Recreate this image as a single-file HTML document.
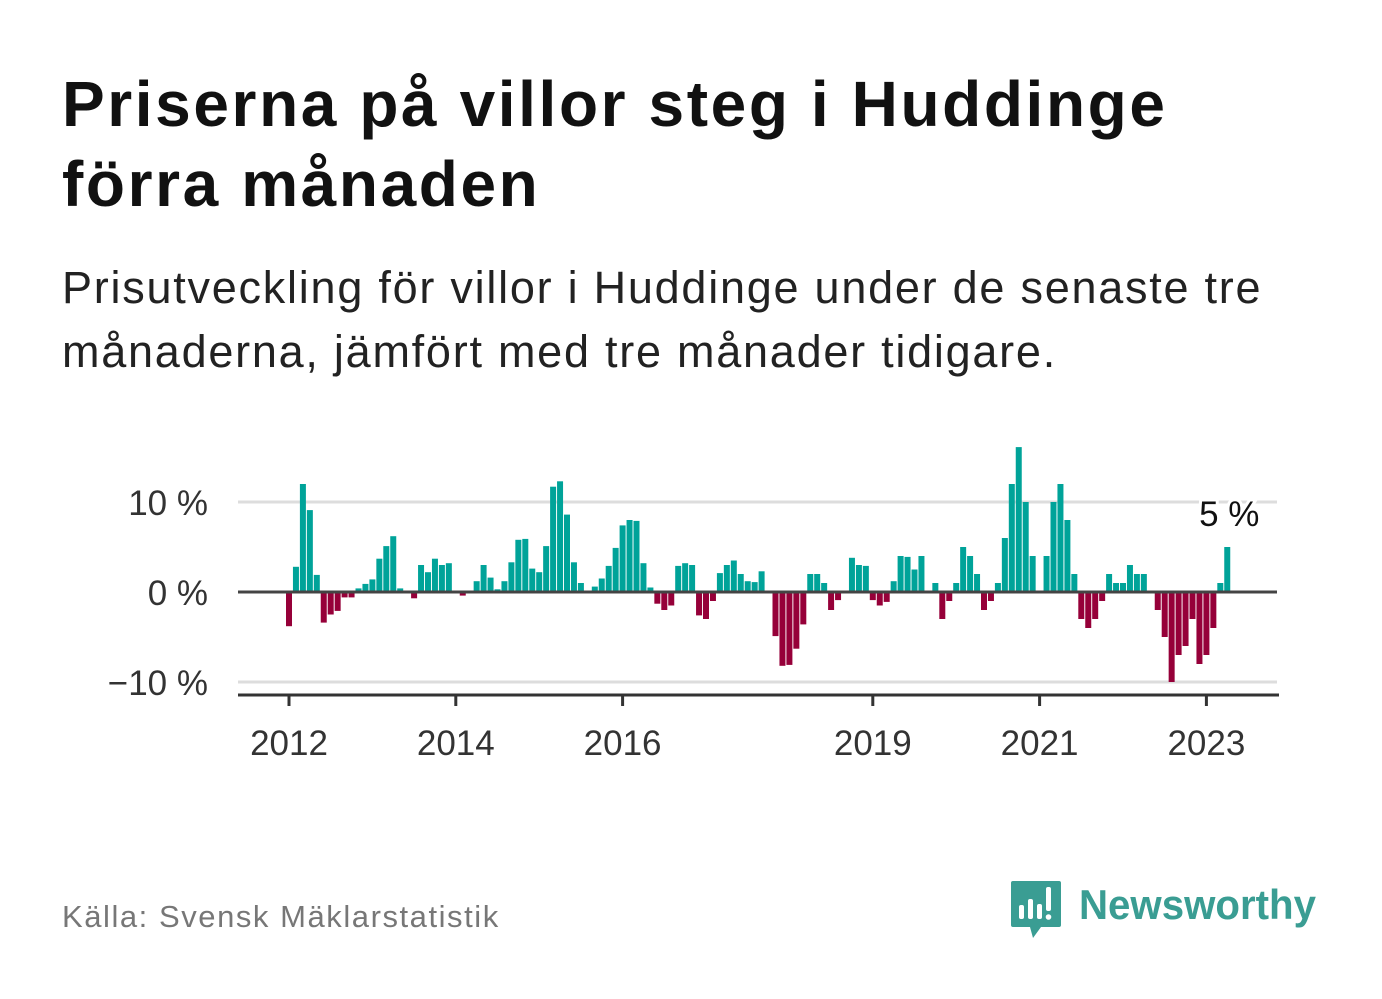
<!DOCTYPE html>
<html><head><meta charset="utf-8">
<style>
body{margin:0;background:#fff;width:1382px;height:999px;overflow:hidden;font-family:"Liberation Sans",sans-serif;}
#title{position:absolute;left:62px;top:64px;font-size:64px;font-weight:bold;line-height:80px;color:#111;letter-spacing:2.6px;}
#sub{position:absolute;left:62px;top:256px;font-size:45px;line-height:64px;color:#222;letter-spacing:1.75px;}
#src{position:absolute;left:62px;top:899px;font-size:31px;color:#777;letter-spacing:1.55px;}
svg{position:absolute;left:0;top:0;}
</style></head><body>
<div id="title">Priserna på villor steg i Huddinge<br>förra månaden</div>
<div id="sub">Prisutveckling för villor i Huddinge under de senaste tre<br>månaderna, jämfört med tre månader tidigare.</div>
<div id="src">Källa: Svensk Mäklarstatistik</div>
<svg width="1382" height="999" id="chart">
<g id="grid"></g><g id="bars"></g><g id="axis"></g>
<g>
<path d="M1013 881 h46 a2 2 0 0 1 2 2 v42 a2 2 0 0 1 -2 2 h-18 l-8 11 l-3 -11 h-17 a2 2 0 0 1 -2 -2 v-42 a2 2 0 0 1 2 -2z" fill="#3a9d93"/>
<rect x="1019" y="905" width="5" height="14" rx="2" fill="#fff"/>
<rect x="1028" y="899" width="5" height="20" rx="2" fill="#fff"/>
<rect x="1037" y="904" width="5" height="15" rx="2" fill="#fff"/>
<rect x="1046" y="887" width="5" height="24" rx="2" fill="#fff"/>
<circle cx="1048.5" cy="917" r="2.8" fill="#fff"/>
<text x="1079" y="919" font-size="42" font-weight="bold" fill="#3a9d93" font-family="Liberation Sans, sans-serif" textLength="237" lengthAdjust="spacingAndGlyphs">Newsworthy</text>
</g>
</svg>
<script>
const values=[-3.8,2.8,12.0,9.1,1.9,-3.4,-2.5,-2.1,-0.6,-0.6,0.4,0.9,
1.4,3.7,5.1,6.2,0.4,null,-0.7,3.0,2.2,3.7,3.0,3.2,
null,-0.4,null,1.2,3.0,1.6,0.3,1.2,3.3,5.8,5.9,2.6,
2.2,5.1,11.7,12.3,8.6,3.3,1.0,null,0.6,1.5,2.9,4.9,
7.4,8.0,7.9,3.2,0.5,-1.3,-2.0,-1.5,2.9,3.2,3.0,-2.6,
-3.0,-1.0,2.1,3.0,3.5,2.0,1.2,1.1,2.3,null,-4.9,-8.2,
-8.1,-6.3,-3.6,2.0,2.0,1.0,-2.0,-0.9,null,3.8,3.0,2.9,
-0.9,-1.5,-1.1,1.2,4.0,3.9,2.5,4.0,null,1.0,-3.0,-1.0,
1.0,5.0,4.0,2.0,-2.0,-1.0,1.0,6.0,12.0,16.1,10.0,4.0,
null,4.0,10.0,12.0,8.0,2.0,-3.0,-4.0,-3.0,-1.0,2.0,1.0,
1.0,3.0,2.0,2.0,null,-2.0,-5.0,-10.0,-7.0,-6.0,-3.0,-8.0,
-7.0,-4.0,1.0,5.0];
const startYear=2012;
const yTicks=[10,0,-10];
const yTickLabels=["10 %","0 %","\u221210 %"];
const xTickYears=[2012,2014,2016,2019,2021,2023];
const NS="http://www.w3.org/2000/svg";
const x=i=>289+i*83.4/12;
const y=v=>592-v*9.0;
const g=document.getElementById('grid'),b=document.getElementById('bars'),a=document.getElementById('axis');
function mk(t,at,p){const e=document.createElementNS(NS,t);for(const k in at)e.setAttribute(k,at[k]);p.appendChild(e);return e;}
yTicks.forEach((v,k)=>{
  const l=mk('line',{x1:238,x2:1277,y1:y(v),y2:y(v),stroke:'#ddd','stroke-width':3},g);
  
  
  const t=mk('text',{x:208,y:y(v)+13,'text-anchor':'end','font-size':35,fill:'#333'},g);
  t.textContent=yTickLabels[k];
  
  
});
values.forEach((v,i)=>{
  if(v===null)return;
  const r=mk('rect',{x:x(i)-3,width:6,y:v>=0?y(v):y(0),height:Math.abs(y(v)-y(0)),fill:v>=0?'#00a399':'#960039'},b);
  
  
});
const z=mk('line',{x1:238,x2:1277,y1:y(0),y2:y(0),stroke:'#444','stroke-width':3},a);


const ax=mk('line',{x1:238,x2:1279,y1:695,y2:695,stroke:'#333','stroke-width':3},a);


xTickYears.forEach(yr=>{
  const xi=x((yr-startYear)*12);
  const tk=mk('line',{x1:xi,x2:xi,y1:695,y2:706,stroke:'#333','stroke-width':3},a);
  
  
  const t=mk('text',{x:xi,y:755,'text-anchor':'middle','font-size':35,fill:'#333'},a);
  t.textContent=yr;
  
  
});
const last=values.length-1;
const an=mk('text',{x:x(last)+2,y:526,'text-anchor':'middle','font-size':35,fill:'#111',stroke:'#fff','stroke-width':6,'paint-order':'stroke'},a);
an.textContent=values[last]+' %';


</script>
</body></html>
